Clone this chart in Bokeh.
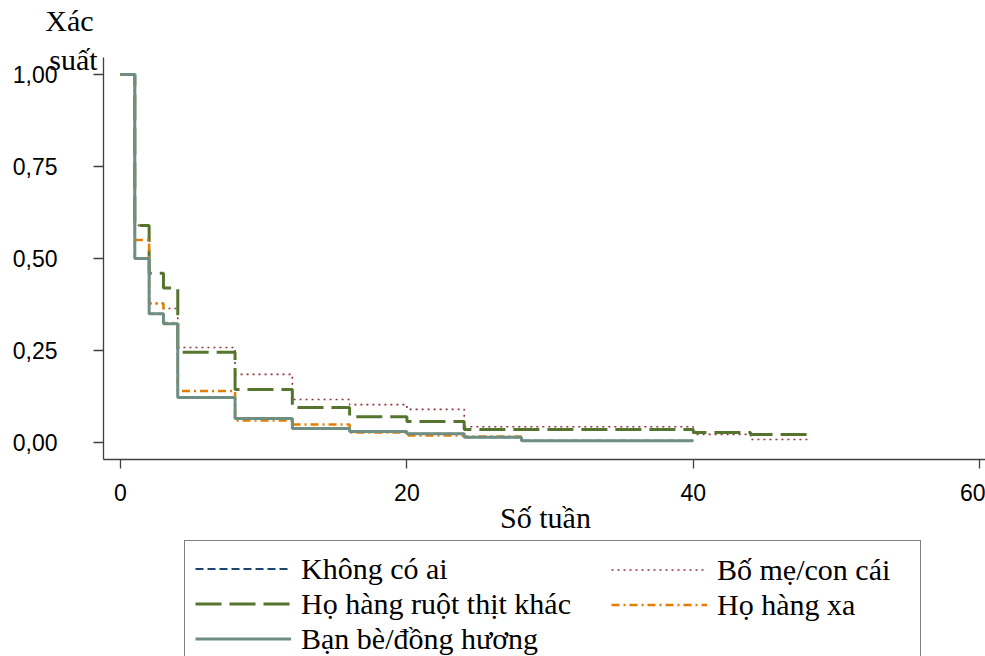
from bokeh.plotting import figure
from bokeh.models import Legend, LegendItem, Label, FixedTicker, Range1d, LinearAxis
from bokeh.embed import file_html
from bokeh.resources import INLINE

# ---- data ----
series_names = ["Không có ai", "Bố mẹ/con cái", "Họ hàng ruột thịt khác",
                "Họ hàng xa", "Bạn bè/đồng hương"]

weeks_khong = [0, 1, 2, 3, 4, 8, 12, 16, 20, 24, 28, 40]
surv_khong = [1.0, 0.50, 0.35, 0.323, 0.122, 0.065, 0.038, 0.030, 0.024, 0.014, 0.005, 0.005]

weeks_bome = [0, 1, 2, 3, 4, 8, 12, 16, 20, 24, 40, 44, 48]
surv_bome = [1.0, 0.59, 0.378, 0.364, 0.258, 0.185, 0.117, 0.103, 0.090, 0.043, 0.022, 0.008, 0.008]

weeks_ruot = [0, 1, 2, 3, 4, 8, 12, 16, 20, 24, 40, 44, 48]
surv_ruot = [1.0, 0.59, 0.46, 0.42, 0.245, 0.144, 0.095, 0.070, 0.057, 0.035, 0.027, 0.022, 0.022]

weeks_xa = [0, 1, 2, 3, 4, 8, 12, 16, 20, 24, 28]
surv_xa = [1.0, 0.55, 0.378, 0.325, 0.140, 0.060, 0.049, 0.027, 0.019, 0.016, 0.016]

weeks_banbe = [0, 1, 2, 3, 4, 8, 12, 16, 20, 24, 28, 40]
surv_banbe = [1.0, 0.50, 0.35, 0.323, 0.122, 0.065, 0.038, 0.030, 0.024, 0.014, 0.005, 0.005]

x_ticks = [0, 20, 40, 60]
y_ticks = [0.0, 0.25, 0.5, 0.75, 1.0]
y_tick_labels = ["0,00", "0,25", "0,50", "0,75", "1,00"]

x_title = "Số tuần"
y_title_lines = ["Xác", "suất"]

# axis extents (data units)
X_MIN, X_MAX = -1.187, 60.40
Y_MIN, Y_MAX = -0.0462, 1.046

# ---- figure: frame covers the whole canvas, axes at fixed locations ----
W, H = 985, 656
PX_X = 14.32   # pixels per week
PX_Y = 368.0   # pixels per unit probability
x0_px, y0_px = 120.0, 442.0
p = figure(width=W, height=H,
           x_range=Range1d(-x0_px / PX_X, (W - x0_px) / PX_X),
           y_range=Range1d(-(H - y0_px) / PX_Y, y0_px / PX_Y),
           x_axis_location=None, y_axis_location=None,
           output_backend="svg", toolbar_location=None,
           min_border=0, min_border_left=0, min_border_right=0,
           min_border_top=0, min_border_bottom=0)
p.outline_line_color = None
p.grid.visible = False
p.background_fill_color = "white"
p.border_fill_color = "white"

SERIF = "Liberation Serif"
SANS = "Liberation Sans"
axis_col = "#404040"

xaxis = LinearAxis(fixed_location=Y_MIN, bounds=(X_MIN, X_MAX))
yaxis = LinearAxis(fixed_location=X_MIN, bounds=(Y_MIN, Y_MAX))
for ax in (xaxis, yaxis):
    ax.axis_line_color = axis_col
    ax.axis_line_width = 1.3
    ax.major_tick_line_color = axis_col
    ax.major_tick_line_width = 1.3
    ax.major_tick_in = 0
    ax.minor_tick_line_color = None
    ax.major_label_text_font = SANS
    ax.major_label_text_font_size = "23px"
    ax.major_label_text_color = "black"

xaxis.ticker = FixedTicker(ticks=x_ticks)
xaxis.major_tick_out = 9
xaxis.major_label_standoff = 15

yaxis.ticker = FixedTicker(ticks=y_ticks)
yaxis.major_label_overrides = {t: l for t, l in zip(y_ticks, y_tick_labels)}
yaxis.major_tick_out = 10
yaxis.major_label_standoff = 36
yaxis.major_label_orientation = "horizontal"

p.add_layout(xaxis, "below")
p.add_layout(yaxis, "left")

# ---- curves ----
styles = [
    dict(line_color="#1a476f", line_width=2, line_dash="8 4"),
    dict(line_color="#90353b", line_width=1.6, line_dash="2 4"),
    dict(line_color="#55752f", line_width=3, line_dash="26 8"),
    dict(line_color="#e37e00", line_width=2.5, line_dash="8 4 2 4"),
    dict(line_color="#6e8e84", line_width=3),
]
data = [(weeks_khong, surv_khong), (weeks_bome, surv_bome), (weeks_ruot, surv_ruot),
        (weeks_xa, surv_xa), (weeks_banbe, surv_banbe)]

renderers = []
for (xs, ys), st in zip(data, styles):
    r = p.step(xs, ys, mode="after", **st)
    renderers.append(r)

# ---- titles ----
def px_to_x(px):
    return (px - x0_px) / PX_X

def py_to_y(py):
    return (y0_px - py) / PX_Y

title_style = dict(text_align="center", text_baseline="middle", text_font=SERIF,
                   text_font_size="30px", text_color="black")
p.add_layout(Label(x=px_to_x(545), y=py_to_y(517), text=x_title, **title_style))
p.add_layout(Label(x=px_to_x(69), y=py_to_y(20), text=y_title_lines[0], **title_style))
p.add_layout(Label(x=px_to_x(73), y=py_to_y(59), text=y_title_lines[1], **title_style))

# ---- legend (two columns inside one box) ----
common = dict(margin=0, padding=10, spacing=0, glyph_width=96, glyph_height=35,
              label_height=35, label_standoff=10, label_text_font=SERIF,
              label_text_font_size="30px", label_text_color="black",
              label_text_baseline="middle")

legend_a = Legend(items=[LegendItem(label=series_names[0], renderers=[renderers[0]]),
                         LegendItem(label=series_names[2], renderers=[renderers[2]]),
                         LegendItem(label=series_names[4], renderers=[renderers[4]])],
                  location=(184, -11), label_width=609,
                  border_line_color="black", border_line_width=1,
                  background_fill_color="white", background_fill_alpha=1, **common)
legend_b = Legend(items=[LegendItem(label=series_names[1], renderers=[renderers[1]]),
                         LegendItem(label=series_names[3], renderers=[renderers[3]])],
                  location=(611, 34), border_line_color=None,
                  background_fill_alpha=0, **common)
p.add_layout(legend_a)
p.add_layout(legend_b)

open("out.html", "w").write(file_html(p, INLINE))
